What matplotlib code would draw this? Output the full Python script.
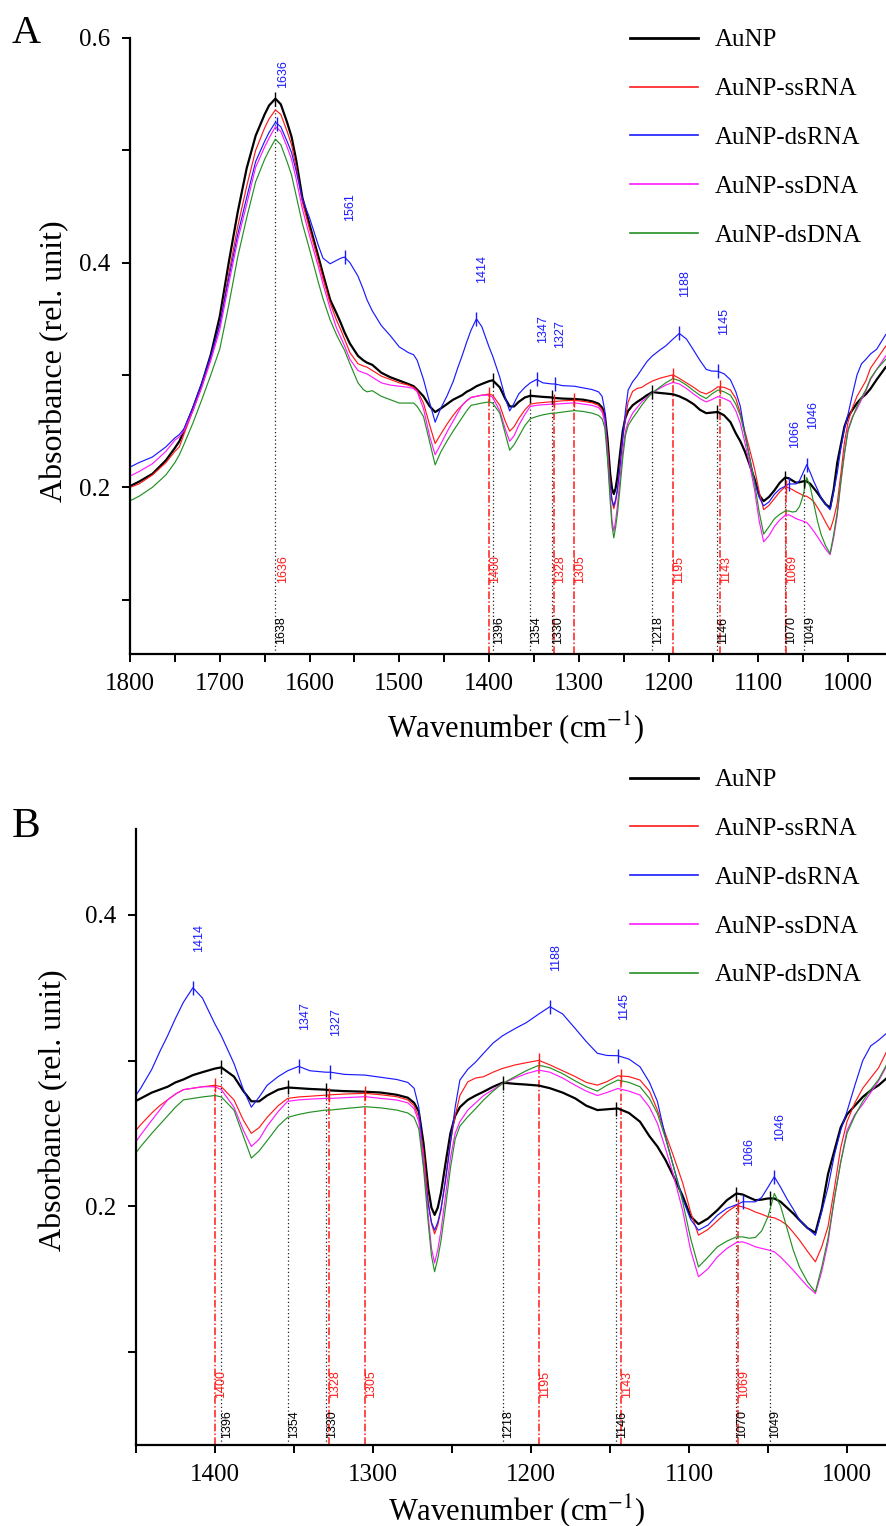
import numpy as np
import matplotlib
matplotlib.use('Agg')
import matplotlib.pyplot as plt
from matplotlib.ticker import MultipleLocator
from matplotlib.lines import Line2D
import matplotlib.transforms as mtransforms

plt.rcParams['font.family'] = ['Liberation Serif', 'DejaVu Serif']
plt.rcParams['mathtext.fontset'] = 'stix'

# ---------------- data ----------------
wavenumber = [
    1800, 1790, 1775, 1760, 1750, 1745, 1740, 1730, 1720, 1710,
    1700, 1690, 1680, 1670, 1660, 1650, 1645, 1638, 1632, 1625,
    1620, 1615, 1608, 1600, 1590, 1585, 1577, 1570, 1565, 1561,
    1555, 1546, 1540, 1536, 1530, 1520, 1510, 1500, 1490, 1484,
    1480, 1473, 1466, 1460, 1454, 1447, 1440, 1435, 1430, 1425,
    1420, 1414, 1408, 1400, 1396, 1388, 1382, 1377, 1372, 1367,
    1360, 1354, 1347, 1340, 1330, 1327, 1318, 1305, 1295, 1285,
    1278, 1274, 1271, 1268, 1265, 1263, 1261, 1259, 1257, 1254,
    1251, 1248, 1245, 1240, 1235, 1230, 1224, 1218, 1210, 1203,
    1195, 1188, 1180, 1172, 1165, 1158, 1152, 1145, 1138, 1131,
    1125, 1120, 1115, 1110, 1104, 1099, 1094, 1088, 1082, 1076,
    1070, 1066, 1062, 1058, 1054, 1050, 1046, 1042, 1038, 1034,
    1030, 1025, 1020, 1016, 1012, 1008, 1004, 1000, 995, 990,
    985, 980, 975, 968, 958]

aunp = [
    0.201, 0.205, 0.212, 0.224, 0.235, 0.241, 0.250, 0.270, 0.292, 0.318,
    0.352, 0.400, 0.445, 0.484, 0.513, 0.532, 0.540, 0.546, 0.541, 0.525,
    0.512, 0.492, 0.458, 0.434, 0.405, 0.390, 0.367, 0.355, 0.346, 0.338,
    0.328, 0.317, 0.313, 0.311, 0.309, 0.302, 0.298, 0.295, 0.292, 0.290,
    0.287, 0.281, 0.272, 0.267, 0.270, 0.274, 0.278, 0.280, 0.282, 0.285,
    0.287, 0.290, 0.292, 0.2945, 0.2953, 0.289, 0.279, 0.272, 0.272, 0.276,
    0.280, 0.2815, 0.281, 0.2805, 0.280, 0.2795, 0.279, 0.2786, 0.278, 0.2765,
    0.2745, 0.271, 0.265, 0.243, 0.212, 0.199, 0.194, 0.199, 0.209, 0.230,
    0.250, 0.262, 0.268, 0.273, 0.276, 0.2786, 0.282, 0.2848, 0.284, 0.2835,
    0.2828, 0.281, 0.278, 0.274, 0.269, 0.266, 0.2665, 0.2671, 0.264, 0.258,
    0.248, 0.241, 0.232, 0.221, 0.207, 0.193, 0.1877, 0.1915, 0.1973, 0.2041,
    0.2087, 0.208, 0.206, 0.2041, 0.2045, 0.2053, 0.2053, 0.203, 0.199, 0.195,
    0.1904, 0.185, 0.1817, 0.198, 0.222, 0.238, 0.254, 0.263, 0.269, 0.275,
    0.2795, 0.283, 0.2877, 0.296, 0.307]

ssrna = [
    0.200, 0.203, 0.211, 0.222, 0.232, 0.236, 0.247, 0.268, 0.290, 0.314,
    0.345, 0.390, 0.432, 0.468, 0.500, 0.520, 0.528, 0.536, 0.532, 0.517,
    0.505, 0.486, 0.454, 0.430, 0.401, 0.386, 0.364, 0.349, 0.340, 0.332,
    0.320, 0.310, 0.308, 0.307, 0.304, 0.299, 0.296, 0.293, 0.291, 0.289,
    0.286, 0.275, 0.255, 0.239, 0.247, 0.256, 0.264, 0.269, 0.273, 0.277,
    0.280, 0.281, 0.282, 0.283, 0.282, 0.273, 0.259, 0.250, 0.254, 0.261,
    0.269, 0.274, 0.275, 0.2755, 0.2763, 0.2765, 0.277, 0.2775, 0.2765, 0.2752,
    0.273, 0.269, 0.261, 0.237, 0.203, 0.188, 0.181, 0.187, 0.197, 0.220,
    0.244, 0.262, 0.276, 0.2854, 0.288, 0.2889, 0.292, 0.2946, 0.297, 0.2985,
    0.3001, 0.297, 0.293, 0.289, 0.285, 0.2831, 0.2855, 0.2895, 0.289, 0.2866,
    0.279, 0.266, 0.250, 0.235, 0.216, 0.196, 0.1801, 0.184, 0.190, 0.196,
    0.2005, 0.1995, 0.198, 0.196, 0.1945, 0.1927, 0.192, 0.190, 0.187, 0.182,
    0.1766, 0.169, 0.1618, 0.172, 0.186, 0.212, 0.240, 0.258, 0.271, 0.281,
    0.288, 0.295, 0.306, 0.314, 0.3256]

dsrna = [
    0.218, 0.222, 0.227, 0.236, 0.244, 0.247, 0.252, 0.271, 0.293, 0.317,
    0.345, 0.386, 0.425, 0.458, 0.490, 0.508, 0.516, 0.525, 0.521, 0.508,
    0.498, 0.482, 0.457, 0.440, 0.415, 0.404, 0.399, 0.402, 0.404, 0.405,
    0.400, 0.388, 0.376, 0.367, 0.357, 0.344, 0.335, 0.325, 0.320, 0.318,
    0.313, 0.296, 0.275, 0.258, 0.270, 0.281, 0.294, 0.306, 0.317, 0.329,
    0.340, 0.350, 0.343, 0.325, 0.317, 0.298, 0.280, 0.268, 0.275, 0.283,
    0.289, 0.293, 0.296, 0.293, 0.292, 0.292, 0.2905, 0.290, 0.2885, 0.287,
    0.285, 0.281, 0.268, 0.228, 0.201, 0.189, 0.1835, 0.189, 0.198, 0.218,
    0.243, 0.268, 0.2866, 0.294, 0.299, 0.305, 0.312, 0.317, 0.322, 0.326,
    0.332, 0.337, 0.332, 0.322, 0.313, 0.305, 0.3035, 0.3033, 0.301, 0.2957,
    0.285, 0.272, 0.248, 0.228, 0.205, 0.191, 0.1835, 0.187, 0.1938, 0.1985,
    0.201, 0.203, 0.203, 0.203, 0.206, 0.213, 0.2202, 0.213, 0.205, 0.198,
    0.1904, 0.185, 0.180, 0.196, 0.213, 0.235, 0.252, 0.265, 0.283, 0.300,
    0.310, 0.314, 0.3187, 0.323, 0.336]

ssdna = [
    0.210, 0.214, 0.221, 0.232, 0.242, 0.245, 0.250, 0.268, 0.289, 0.313,
    0.340, 0.381, 0.420, 0.452, 0.485, 0.503, 0.511, 0.521, 0.517, 0.503,
    0.492, 0.475, 0.448, 0.424, 0.396, 0.381, 0.359, 0.342, 0.333, 0.326,
    0.314, 0.304, 0.302, 0.301, 0.298, 0.293, 0.291, 0.290, 0.289, 0.288,
    0.285, 0.270, 0.245, 0.229, 0.238, 0.249, 0.259, 0.266, 0.273, 0.277,
    0.280, 0.281, 0.282, 0.282, 0.280, 0.268, 0.252, 0.241, 0.246, 0.255,
    0.265, 0.272, 0.273, 0.2735, 0.274, 0.274, 0.2745, 0.2752, 0.274, 0.2729,
    0.271, 0.267, 0.258, 0.232, 0.193, 0.171, 0.161, 0.170, 0.183, 0.208,
    0.233, 0.250, 0.258, 0.266, 0.271, 0.276, 0.280, 0.2843, 0.288, 0.291,
    0.2934, 0.292, 0.288, 0.283, 0.279, 0.276, 0.278, 0.2808, 0.279, 0.2763,
    0.268, 0.2569, 0.240, 0.222, 0.197, 0.170, 0.1515, 0.157, 0.1652, 0.171,
    0.175, 0.1755, 0.174, 0.1721, 0.171, 0.170, 0.1687, 0.165, 0.1606, 0.156,
    0.151, 0.145, 0.140, 0.155, 0.175, 0.205, 0.230, 0.252, 0.263, 0.270,
    0.278, 0.286, 0.296, 0.305, 0.317]

dsdna = [
    0.188, 0.192, 0.200, 0.211, 0.222, 0.229, 0.238, 0.257, 0.278, 0.300,
    0.323, 0.362, 0.405, 0.440, 0.472, 0.492, 0.500, 0.510, 0.505, 0.490,
    0.478, 0.460, 0.435, 0.412, 0.382, 0.368, 0.349, 0.336, 0.328, 0.322,
    0.310, 0.293, 0.287, 0.285, 0.286, 0.281, 0.278, 0.275, 0.275, 0.275,
    0.272, 0.263, 0.240, 0.220, 0.231, 0.241, 0.250, 0.256, 0.262, 0.268,
    0.273, 0.274, 0.275, 0.276, 0.275, 0.266, 0.248, 0.233, 0.238, 0.245,
    0.255, 0.261, 0.263, 0.2645, 0.266, 0.266, 0.267, 0.2683, 0.2675, 0.266,
    0.264, 0.261, 0.253, 0.226, 0.188, 0.166, 0.155, 0.164, 0.176, 0.200,
    0.226, 0.246, 0.255, 0.2614, 0.267, 0.2729, 0.279, 0.2843, 0.289, 0.293,
    0.2968, 0.295, 0.291, 0.286, 0.282, 0.279, 0.283, 0.2866, 0.285, 0.282,
    0.274, 0.2637, 0.247, 0.228, 0.203, 0.178, 0.1583, 0.165, 0.1721, 0.176,
    0.1789, 0.1789, 0.178, 0.1785, 0.183, 0.1927, 0.2087, 0.200, 0.185, 0.1698,
    0.158, 0.148, 0.1411, 0.158, 0.178, 0.205, 0.230, 0.250, 0.262, 0.272,
    0.280, 0.287, 0.297, 0.305, 0.314]

series_labels = ['AuNP', 'AuNP-ssRNA', 'AuNP-dsRNA', 'AuNP-ssDNA', 'AuNP-dsDNA']

aunp_peaks = [1638, 1396, 1354, 1330, 1218, 1146, 1070, 1049]
ssrna_peaks = [1636, 1400, 1328, 1305, 1195, 1143, 1069]
ssrna_lines = [1400, 1328, 1305, 1195, 1143, 1069]
dsrna_peaks = [1636, 1561, 1414, 1347, 1327, 1188, 1145, 1066, 1046]

# ---------------- style ----------------
colors = ['#000000', '#ff1a1a', '#1a1aff', '#ff1aff', '#239023']
widths = [1.6, 0.85, 0.85, 0.85, 0.85]
ann_font = ['Liberation Sans', 'DejaVu Sans']

W, H = 886, 1526
fig = plt.figure(figsize=(W / 100, H / 100), dpi=100)

wn = np.array(wavenumber, dtype=float)
data = [np.array(s, dtype=float) for s in (aunp, ssrna, dsrna, ssdna, dsdna)]
for s in data:
    assert len(s) == len(wn)


def val_at(series, x):
    return float(np.interp(x, wn[::-1], series[::-1]))


def draw_panel(ax, xlim, ylim, black_y, red_y, red_line_list):
    ax.set_xlim(*xlim)
    ax.set_ylim(*ylim)
    lo, hi = min(xlim), max(xlim)
    trans = mtransforms.blended_transform_factory(ax.transData, ax.transAxes)

    # vertical guide lines
    for p in aunp_peaks:
        if lo <= p <= hi:
            ax.vlines(p, ylim[0], val_at(data[0], p), colors='#222222',
                      linestyles=(0, (1, 2)), linewidth=0.9, zorder=1)
    for p in red_line_list:
        if lo <= p <= hi:
            ax.vlines(p, ylim[0], val_at(data[1], p), colors='#ff1a1a',
                      linestyles=(0, (5, 1.5, 1, 1.5)), linewidth=1.1, zorder=1)

    # curves
    for s, c, lw in zip(data, colors, widths):
        ax.plot(wn, s, color=c, lw=lw, zorder=2)

    # peak markers
    for plist, s, c in ((aunp_peaks, data[0], '#000000'),
                        (ssrna_lines, data[1], '#ff1a1a'),
                        (dsrna_peaks, data[2], '#1a1aff')):
        for p in plist:
            if lo <= p <= hi:
                ax.plot([p], [val_at(s, p)], marker='|', ms=10, mew=1.0,
                        color=c, zorder=3)

    # labels
    for p in aunp_peaks:
        if lo <= p <= hi:
            ax.text(p, black_y, str(p), transform=trans, rotation=90,
                    ha='left', va='bottom', fontsize=9, color='black',
                    family=ann_font)
    for p in ssrna_peaks:
        if lo <= p <= hi:
            ax.text(p, red_y, str(p), transform=trans, rotation=90,
                    ha='left', va='bottom', fontsize=9, color='#ff1a1a',
                    family=ann_font)
    for p in dsrna_peaks:
        if lo <= p <= hi:
            ax.annotate(str(p), xy=(p, val_at(data[2], p)), xytext=(0, 26),
                        textcoords='offset points', rotation=90,
                        ha='left', va='bottom', fontsize=9, color='#1a1aff',
                        family=ann_font)

    for side in ('top', 'right'):
        ax.spines[side].set_visible(False)
    for side in ('left', 'bottom'):
        ax.spines[side].set_linewidth(1.6)
    ax.xaxis.set_major_locator(MultipleLocator(100))
    ax.xaxis.set_minor_locator(MultipleLocator(50))
    ax.yaxis.set_major_locator(MultipleLocator(0.2))
    ax.yaxis.set_minor_locator(MultipleLocator(0.1))
    ax.tick_params(which='both', direction='out', length=6, width=1.4,
                   labelsize=18, pad=8)
    ax.set_xlabel(r'Wavenumber (cm$^{-1}$)', fontsize=22)
    ax.set_ylabel('Absorbance (rel. unit)', fontsize=23)


def legend_for(ax, x_px, top_px):
    handles = [Line2D([0], [0], color=c, lw=(2.0 if i == 0 else 1.2))
               for i, c in enumerate(colors)]
    ax.legend(handles, series_labels, loc='upper left',
              bbox_to_anchor=(x_px / W, 1 - top_px / H),
              bbox_transform=fig.transFigure, frameon=False, fontsize=18,
              handlelength=2.7, handletextpad=0.7, labelspacing=1.05,
              borderpad=0, borderaxespad=0)


# Panel A
axA = fig.add_axes([130 / W, 1 - 654 / H, (W - 130) / W, 616 / H])
draw_panel(axA, (1800, 957.7), (0.0516, 0.6), 0.016, 0.115, ssrna_lines)
axA.yaxis.set_label_coords(-0.080, 0.476)
axA.xaxis.set_label_coords(0.51, -0.089)
legend_for(axA, 630, 29)

# Panel B
axB = fig.add_axes([136 / W, 1 - 1445 / H, (W - 136) / W, 616 / H])
draw_panel(axB, (1450, 975.3), (0.036, 0.459), 0.011, 0.076, ssrna_lines)
axB.yaxis.set_label_coords(-0.090, 0.544)
axB.xaxis.set_label_coords(0.507, -0.076)
legend_for(axB, 630, 769)

fig.text(12 / W, 1 - 43 / H, 'A', fontsize=29, ha='left', va='baseline')
fig.text(12 / W, 1 - 837 / H, 'B', fontsize=31, ha='left', va='baseline')

fig.savefig('out.png', dpi=100)
